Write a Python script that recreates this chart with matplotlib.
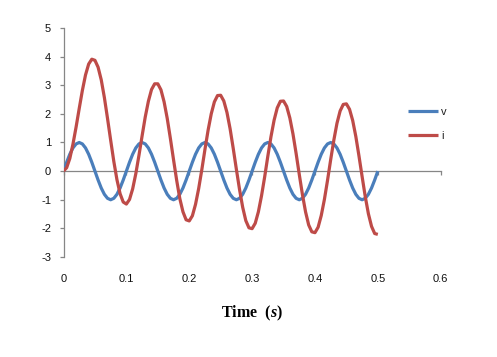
import numpy as np
import matplotlib
matplotlib.use("Agg")
import matplotlib.pyplot as plt

# time samples (s)
t = [round(0.005 * k, 3) for k in range(101)]

# voltage values
v_vals = [
    0.00, 0.31, 0.59, 0.81, 0.95, 1.00, 0.95, 0.81, 0.59, 0.31,
    0.00, -0.31, -0.59, -0.81, -0.95, -1.00, -0.95, -0.81, -0.59, -0.31,
    0.00, 0.31, 0.59, 0.81, 0.95, 1.00, 0.95, 0.81, 0.59, 0.31,
    0.00, -0.31, -0.59, -0.81, -0.95, -1.00, -0.95, -0.81, -0.59, -0.31,
    0.00, 0.31, 0.59, 0.81, 0.95, 1.00, 0.95, 0.81, 0.59, 0.31,
    0.00, -0.31, -0.59, -0.81, -0.95, -1.00, -0.95, -0.81, -0.59, -0.31,
    0.00, 0.31, 0.59, 0.81, 0.95, 1.00, 0.95, 0.81, 0.59, 0.31,
    0.00, -0.31, -0.59, -0.81, -0.95, -1.00, -0.95, -0.81, -0.59, -0.31,
    0.00, 0.31, 0.59, 0.81, 0.95, 1.00, 0.95, 0.81, 0.59, 0.31,
    0.00, -0.31, -0.59, -0.81, -0.95, -1.00, -0.95, -0.81, -0.59, -0.31,
    0.00,
]

# current values
i_vals = [
    0.00, 0.12, 0.44, 0.94, 1.54, 2.19, 2.82, 3.36, 3.74, 3.91,
    3.87, 3.63, 3.19, 2.57, 1.84, 1.08, 0.34, -0.30, -0.79, -1.08,
    -1.15, -0.99, -0.62, -0.09, 0.55, 1.23, 1.89, 2.44, 2.85, 3.05,
    3.05, 2.84, 2.42, 1.84, 1.14, 0.40, -0.32, -0.96, -1.42, -1.70,
    -1.74, -1.56, -1.16, -0.61, 0.05, 0.76, 1.43, 2.00, 2.42, 2.64,
    2.65, 2.45, 2.05, 1.48, 0.79, 0.06, -0.64, -1.26, -1.73, -1.98,
    -2.01, -1.82, -1.42, -0.86, -0.20, 0.52, 1.20, 1.78, 2.21, 2.44,
    2.45, 2.26, 1.86, 1.30, 0.62, -0.11, -0.81, -1.42, -1.88, -2.12,
    -2.15, -1.96, -1.55, -0.99, -0.32, 0.40, 1.08, 1.67, 2.10, 2.33,
    2.35, 2.16, 1.77, 1.21, 0.53, -0.19, -0.89, -1.49, -1.93, -2.18,
    -2.21,
]

series_labels = ["v", "i"]
series_colors = ["#4A7EBB", "#BE4B48"]
x_ticks = [0, 0.1, 0.2, 0.3, 0.4, 0.5, 0.6]
x_tick_labels = ["0", "0.1", "0.2", "0.3", "0.4", "0.5", "0.6"]
y_ticks = [-3, -2, -1, 0, 1, 2, 3, 4, 5]

plt.rcParams["axes.unicode_minus"] = False
plt.rcParams["mathtext.fontset"] = "custom"
plt.rcParams["mathtext.rm"] = "Liberation Serif:bold"
plt.rcParams["mathtext.it"] = "Liberation Serif:italic:bold"

fig = plt.figure(figsize=(4.97, 3.57), dpi=100)
ax = fig.add_axes([0.1278, 0.2801, 0.7589, 0.6415])

ax.plot(t, v_vals, color=series_colors[0], lw=2.3, label=series_labels[0],
        solid_capstyle="butt", zorder=3)
ax.plot(t, i_vals, color=series_colors[1], lw=2.3, label=series_labels[1],
        solid_capstyle="butt", zorder=4)

ax.set_xlim(0, 0.6)
ax.set_ylim(-3, 5)

axis_col = "#868686"
for s in ["top", "right"]:
    ax.spines[s].set_visible(False)
ax.spines["left"].set_color(axis_col)
ax.spines["left"].set_linewidth(0.9)
ax.spines["bottom"].set_position(("data", 0))
ax.spines["bottom"].set_color(axis_col)
ax.spines["bottom"].set_linewidth(0.9)
ax.spines["bottom"].set_zorder(1)

ax.set_xticks(x_ticks)
ax.set_xticklabels(x_tick_labels)
ax.set_yticks(y_ticks)

ax.tick_params(axis="y", direction="out", length=3, width=0.9, color=axis_col,
               pad=6, labelsize=8, labelcolor="#111111")
ax.tick_params(axis="x", direction="out", length=3, width=0.9, color=axis_col,
               pad=71, labelsize=8, labelcolor="#111111")
for lab in ax.get_xticklabels() + ax.get_yticklabels():
    lab.set_fontfamily("Liberation Sans")

ax.set_xlabel(r"$\mathrm{Time}\ \ (s)$", fontsize=11.5, labelpad=14)

leg = ax.legend(loc="upper left", bbox_to_anchor=(0.886, 0.70), frameon=False,
                handlelength=2.7, handletextpad=0.3, labelspacing=1.3,
                prop={"family": "Liberation Sans", "size": 8})
for txt in leg.get_texts():
    txt.set_color("#222222")

fig.savefig("out.png", dpi=100)
